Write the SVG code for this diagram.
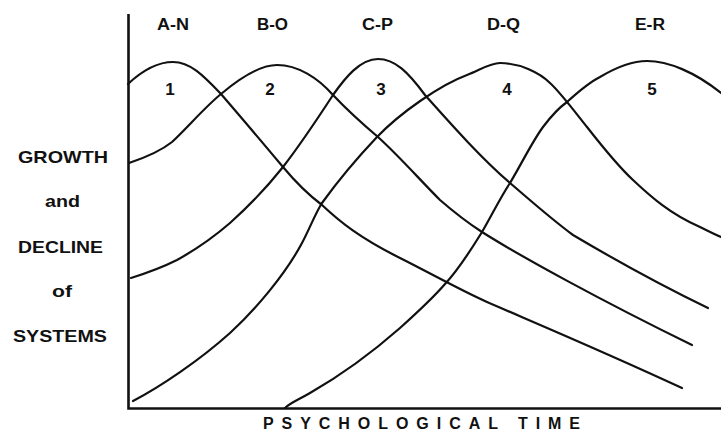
<svg xmlns="http://www.w3.org/2000/svg" width="721" height="435" viewBox="0 0 721 435">
<style>
.ax{stroke:#111;stroke-width:2.6;fill:none}
.cv{stroke:#111;stroke-width:2.2;fill:none;stroke-linecap:round;stroke-linejoin:round}
text{font-family:"Liberation Sans",Arial,sans-serif;font-weight:bold;fill:#111}
.top{font-size:16px}
.num{font-size:17px;text-anchor:middle}
.side{font-size:17px}
.xl{font-size:16px}
</style>
<rect width="721" height="435" fill="#fff"/>
<g id="axes">
<path class="ax" d="M128.5,14 V408.5 H721"/>
</g>
<g id="connectors">
<path id="curve1" class="cv" d="M128,84 C145,68 160,62 173,62 C190,62 203,75 221,94 C240,116 262,142 283,167 C298,185 310,196 322,205 C340,222 360,238 400,258 C430,273 460,290 487,302 C540,325 600,350 682,388"/>
<path id="curve2" class="cv" d="M129,163 C150,156 162,150 172,142 C188,127 205,107 221,94 C240,78 260,65 277,65 C298,65 318,78 333,95 C350,113 365,126 378,137 C400,157 420,180 440,200 C455,213 468,223 482,232 C520,256 600,300 692,345"/>
<path id="curve3" class="cv" d="M131,278 C150,272 165,266 177,260 C195,250 215,236 230,223 C250,205 268,186 283,167 C300,145 318,118 333,95 C345,78 360,59 378,59 C395,59 408,72 425,95 C450,123 480,157 510,183 C530,200 550,218 573,235 C600,251 650,280 708,308"/>
<path id="curve4" class="cv" d="M133,401 C160,387 200,360 230,333 C255,310 285,275 302,243 C310,228 315,214 322,203 C340,178 360,155 377,137 C400,113 440,85 467,75 C480,70 490,63 500,63 C520,63 540,73 550,83 C560,92 575,112 587,127 C605,150 620,168 633,180 C650,196 670,214 700,227 C710,232 716,235 721,237"/>
<path id="curve5" class="cv" d="M285,408 C290,403 298,400 310,393 C345,373 375,350 400,328 C420,310 433,298 445,284 C460,268 472,248 482,232 C492,215 500,198 510,183 C522,163 532,142 543,127 C552,115 560,107 567,102 C578,92 590,82 600,77 C615,68 630,61 647,61 C668,61 695,72 721,93"/>
</g>
<g id="labels-top">
<text class="top" x="157" y="30" textLength="32" lengthAdjust="spacingAndGlyphs">A-N</text>
<text class="top" x="257" y="30" textLength="31" lengthAdjust="spacingAndGlyphs">B-O</text>
<text class="top" x="362" y="30" textLength="31" lengthAdjust="spacingAndGlyphs">C-P</text>
<text class="top" x="487" y="30" textLength="33" lengthAdjust="spacingAndGlyphs">D-Q</text>
<text class="top" x="635" y="30" textLength="30" lengthAdjust="spacingAndGlyphs">E-R</text>
</g>
<g id="labels-num">
<text class="num" x="170" y="95">1</text>
<text class="num" x="270" y="95">2</text>
<text class="num" x="381" y="95">3</text>
<text class="num" x="507" y="95">4</text>
<text class="num" x="652" y="95">5</text>
</g>
<g id="y-label">
<text class="side" x="18" y="163" textLength="90" lengthAdjust="spacingAndGlyphs">GROWTH</text>
<text class="side" x="45" y="207" textLength="35" lengthAdjust="spacingAndGlyphs">and</text>
<text class="side" x="18" y="253" textLength="85" lengthAdjust="spacingAndGlyphs">DECLINE</text>
<text class="side" x="52" y="297" textLength="20" lengthAdjust="spacingAndGlyphs">of</text>
<text class="side" x="13" y="342" textLength="94" lengthAdjust="spacingAndGlyphs">SYSTEMS</text>
</g>
<g id="x-label">
<text class="xl" x="263" y="429" textLength="317">PSYCHOLOGICAL TIME</text>
</g>
</svg>
